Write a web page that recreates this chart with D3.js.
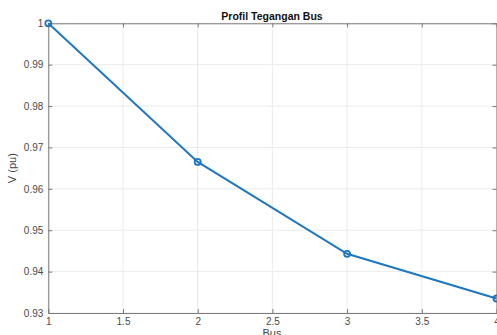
<!DOCTYPE html>
<html>
<head>
<meta charset="utf-8">
<script src="https://d3js.org/d3.v7.min.js"></script>
<style>
body { margin:0; background:#fff; }
svg { font-family: "Liberation Sans", Arial, sans-serif; }
.tick text { fill:#4a4a4a; font-size:10px; }
</style>
</head>
<body>
<script>
// profil tegangan per bus
var bus = [1, 2, 3, 4];
var volt = [1.0, 0.9665, 0.9443, 0.9335];
var xTicks = [1, 1.5, 2, 2.5, 3, 3.5, 4];
var yTicks = [0.93, 0.94, 0.95, 0.96, 0.97, 0.98, 0.99, 1];

var width = 497, height = 335;
var m = {left: 48.3, top: 23.3, right: 0.5, bottom: 22};

var svg = d3.select("body").append("svg")
    .attr("width", width)
    .attr("height", height);

var x = d3.scaleLinear().domain([1, 4]).range([m.left, width - m.right]);
var y = d3.scaleLinear().domain([0.93, 1]).range([height - m.bottom, m.top]);

// grid
svg.append("g").selectAll("line")
    .data(xTicks).enter().append("line")
    .attr("x1", function(d) { return x(d); })
    .attr("x2", function(d) { return x(d); })
    .attr("y1", y(0.93)).attr("y2", y(1))
    .attr("stroke", "#ebebeb").attr("stroke-width", 1);
svg.append("g").selectAll("line")
    .data(yTicks).enter().append("line")
    .attr("y1", function(d) { return y(d); })
    .attr("y2", function(d) { return y(d); })
    .attr("x1", x(1)).attr("x2", x(4))
    .attr("stroke", "#ebebeb").attr("stroke-width", 1);

// axes (ticks inside, like matlab)
var xAxis = d3.axisBottom(x).tickValues(xTicks).tickSizeInner(-4).tickSizeOuter(0).tickPadding(5).tickFormat(d3.format("~g"));
var yAxis = d3.axisLeft(y).tickValues(yTicks).tickSizeInner(-4).tickSizeOuter(0).tickPadding(5).tickFormat(d3.format("~g"));

var gx = svg.append("g").attr("transform", "translate(0," + y(0.93) + ")").call(xAxis);
var gy = svg.append("g").attr("transform", "translate(" + x(1) + ",0)").call(yAxis);
var gxt = svg.append("g").attr("transform", "translate(0," + y(1) + ")")
    .call(d3.axisTop(x).tickValues(xTicks).tickSizeInner(-4).tickSizeOuter(0).tickFormat(""));
var gyr = svg.append("g").attr("transform", "translate(" + x(4) + ",0)")
    .call(d3.axisRight(y).tickValues(yTicks).tickSizeInner(-4).tickSizeOuter(0).tickFormat(""));

[gx, gy, gxt, gyr].forEach(function(g) {
    g.select(".domain").attr("stroke", "#7a7a7a");
    g.selectAll(".tick line").attr("stroke", "#7a7a7a");
});

// data line
var line = d3.line()
    .x(function(d, i) { return x(bus[i]); })
    .y(function(d) { return y(d); });

svg.append("path")
    .datum(volt)
    .attr("d", line)
    .attr("fill", "none")
    .attr("stroke", "#1f77c0")
    .attr("stroke-width", 2);

svg.selectAll(".pt")
    .data(volt).enter().append("circle")
    .attr("class", "pt")
    .attr("cx", function(d, i) { return x(bus[i]); })
    .attr("cy", function(d) { return y(d); })
    .attr("r", 3)
    .attr("fill", "none")
    .attr("stroke", "#1f77c0")
    .attr("stroke-width", 1.8);

// labels
svg.append("text")
    .attr("x", 272).attr("y", 20)
    .attr("text-anchor", "middle")
    .attr("font-size", "10.5px").attr("font-weight", "bold")
    .attr("fill", "#111")
    .text("Profil Tegangan Bus");

svg.append("text")
    .attr("x", 272).attr("y", 337)
    .attr("text-anchor", "middle")
    .attr("font-size", "11px").attr("fill", "#444")
    .text("Bus");

svg.append("text")
    .attr("transform", "translate(16," + ((y(1) + y(0.93)) / 2) + ") rotate(-90)")
    .attr("text-anchor", "middle")
    .attr("font-size", "11px").attr("fill", "#444")
    .text("V (pu)");
</script>
</body>
</html>
